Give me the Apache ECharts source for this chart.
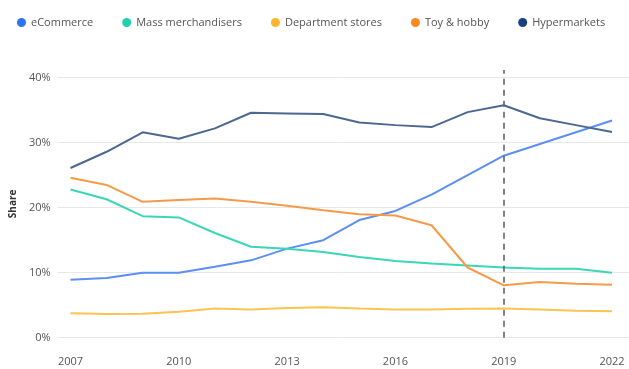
<!DOCTYPE html>
<html>
<head>
<meta charset="utf-8">
<script src="https://cdn.jsdelivr.net/npm/echarts@6/dist/echarts.min.js"></script>
<style>
  html, body { margin: 0; padding: 0; background: #fff; }
  #chart { width: 629px; height: 369px; }
</style>
</head>
<body>
<div id="chart"></div>
<script>
// Channel share of sales by year (%)
const years = [2007, 2008, 2009, 2010, 2011, 2012, 2013, 2014, 2015, 2016, 2017, 2018, 2019, 2020, 2021, 2022];
const eCommerce = [8.9, 9.2, 10.0, 10.0, 10.9, 11.9, 13.7, 15.0, 18.1, 19.5, 22.0, 25.0, 28.0, 29.8, 31.6, 33.4];
const massMerchandisers = [22.8, 21.3, 18.7, 18.5, 16.1, 14.0, 13.7, 13.2, 12.4, 11.8, 11.4, 11.1, 10.8, 10.6, 10.6, 10.0];
const departmentStores = [3.75, 3.65, 3.7, 4.0, 4.5, 4.35, 4.55, 4.7, 4.5, 4.35, 4.35, 4.45, 4.5, 4.35, 4.15, 4.05];
const toyAndHobby = [24.6, 23.5, 20.9, 21.2, 21.4, 20.9, 20.3, 19.6, 19.0, 18.8, 17.3, 10.8, 8.05, 8.55, 8.3, 8.15];
const hypermarkets = [26.1, 28.6, 31.6, 30.6, 32.2, 34.6, 34.5, 34.4, 33.1, 32.7, 32.4, 34.7, 35.75, 33.75, 32.7, 31.65];
const yearTicks = [2007, 2010, 2013, 2016, 2019, 2022];
const shareTicks = [0, 10, 20, 30, 40];
const markerYear = 2019;
// the value axis runs a little past 40% so the marker line can rise above the top gridline
const shareAxisMax = 41.18;

const font = "'Open Sans', 'Noto Sans', sans-serif";

const seriesDefs = [
  { name: 'eCommerce', values: eCommerce, line: '#5b8ff2', dot: '#2f74f4' },
  { name: 'Mass merchandisers', values: massMerchandisers, line: '#3bd6b7', dot: '#1fd2ae' },
  { name: 'Department stores', values: departmentStores, line: '#fbc352', dot: '#fbb62e' },
  { name: 'Toy & hobby', values: toyAndHobby, line: '#f79a47', dot: '#fb891c' },
  { name: 'Hypermarkets', values: hypermarkets, line: '#4c6792', dot: '#173f82' }
];

const series = seriesDefs.map(function (d, i) {
  const s = {
    name: d.name,
    type: 'line',
    data: years.map(function (y, k) { return [y, d.values[k]]; }),
    showSymbol: false,
    symbol: 'circle',
    lineStyle: { width: 2, color: d.line },
    itemStyle: { color: d.dot },
    z: 3 + i
  };
  if (i === 0) {
    s.markLine = {
      silent: true,
      symbol: 'none',
      label: { show: false },
      lineStyle: { color: '#5a5a5a', width: 1.5, type: [6, 5] },
      data: [[{ coord: [markerYear, 0] }, { coord: [markerYear, shareAxisMax] }]]
    };
  }
  return s;
});

const chart = echarts.init(document.getElementById('chart'), null, { renderer: 'canvas' });
chart.setOption({
  backgroundColor: '#fff',
  animation: false,
  textStyle: { fontFamily: font },
  legend: {
    left: 12,
    top: 12,
    icon: 'circle',
    itemWidth: 9,
    itemHeight: 9,
    itemGap: 29,
    textStyle: { fontFamily: font, fontSize: 11, color: '#555' },
    data: seriesDefs.map(function (d) {
      return { name: d.name, itemStyle: { color: d.dot } };
    })
  },
  grid: { left: 55, right: 0, top: 70, bottom: 31.3, containLabel: false },
  xAxis: {
    type: 'value',
    min: 2006.642,
    max: 2022.469,
    axisLine: { show: false },
    axisTick: { show: false },
    splitLine: { show: false },
    axisLabel: {
      customValues: yearTicks,
      color: '#555',
      fontSize: 11,
      fontFamily: font,
      margin: 19,
      formatter: function (v) { return String(v); }
    }
  },
  yAxis: {
    type: 'value',
    min: 0,
    max: shareAxisMax,
    interval: 10,
    name: 'Share',
    nameLocation: 'middle',
    nameGap: 38,
    nameRotate: 90,
    nameTextStyle: { fontSize: 10, fontWeight: 'bold', color: '#333', fontFamily: font },
    axisLine: { show: false },
    axisTick: { show: false },
    splitLine: { showMaxLine: false, lineStyle: { color: '#e8e8e8', width: 1 } },
    axisLabel: {
      color: '#555',
      fontSize: 11,
      fontFamily: font,
      margin: 7,
      showMaxLabel: false,
      formatter: function (v) { return shareTicks.indexOf(v) >= 0 ? v + '%' : ''; }
    }
  },
  series: series
});
</script>
</body>
</html>
